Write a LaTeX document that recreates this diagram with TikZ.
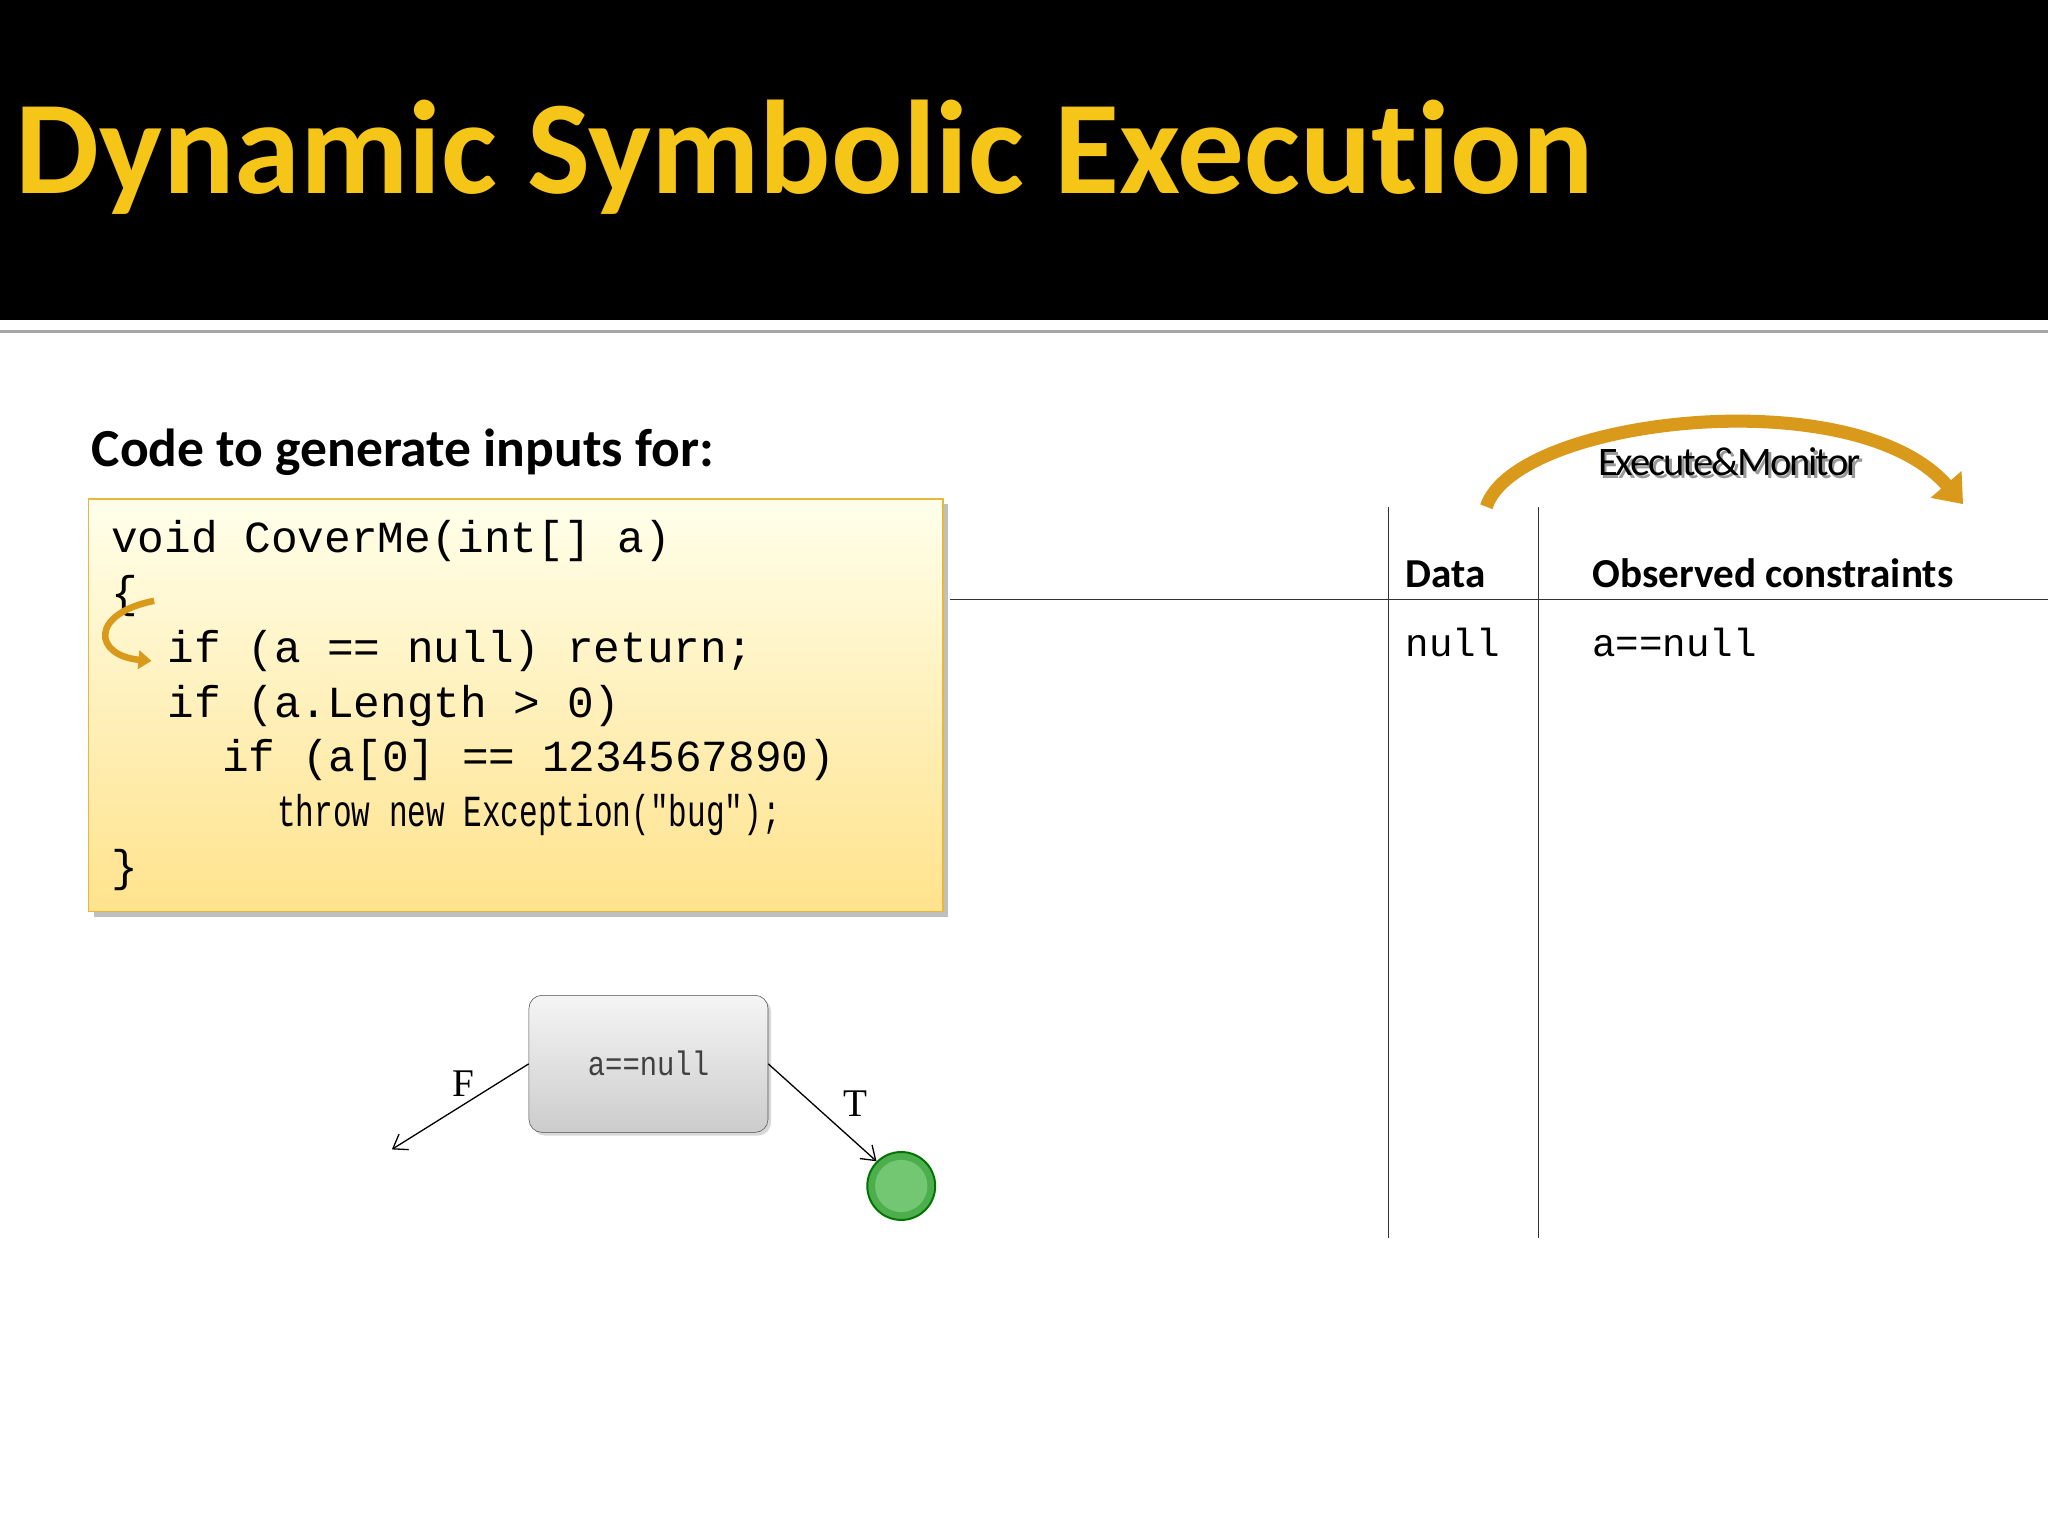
\documentclass[tikz,border=0pt]{standalone}
\usepackage{fontspec}
\setmainfont{Carlito}
\newfontfamily\codefont{Liberation Mono}
\newfontfamily\serifl{Liberation Serif}
\usepackage{graphicx}
\usetikzlibrary{shadows,arrows.meta}
\definecolor{titley}{HTML}{F5C518}
\definecolor{boxborder}{HTML}{E8B83A}
\definecolor{arcor}{HTML}{D99A1C}
\begin{document}
\begin{tikzpicture}[x=1pt,y=-1pt,
  code/.style={anchor=base west,inner sep=0pt,font=\codefont\fontsize{34}{34}\selectfont},
  hdr/.style={anchor=base west,inner sep=0pt,font=\bfseries\fontsize{31.5}{31.5}\selectfont},
  cell/.style={anchor=base west,inner sep=0pt,font=\codefont\fontsize{30}{30}\selectfont},
  lbl/.style={inner sep=0pt,font=\fontsize{30}{30}\selectfont\serifl},
  tline/.style={line width=1pt,black!80}]
\useasboundingbox (0,0) rectangle (1568,1176);
\fill[white] (0,0) rectangle (1568,1176);
\fill[black] (0,0) rectangle (1568,245);
\draw[gray!70,line width=2pt] (0,254) -- (1568,254);
\node[anchor=base west,inner sep=0pt,text=titley,font=\bfseries\fontsize{102}{102}\selectfont\addfontfeature{Ligatures=NoCommon}] (title) at (12,148) {Dynamic Symbolic Execution};
\node[anchor=base west,inner sep=0pt,font=\bfseries\fontsize{41}{41}\selectfont] (sub) at (70,357) {Code to generate inputs for:};
% code box
\fill[black!25] (72,386) rectangle (726,702);
\shade[top color=yellow!8,bottom color=yellow!50!orange!45,draw=boxborder,line width=1pt] (68,382) rectangle (722,698);
\node[code] (l1) at (85,423) {void CoverMe(int[] a)};
\node[code] (l2) at (85,465) {\{};
\node[code] (l3) at (128,507) {if (a == null) return;};
\node[code] (l4) at (128,549) {if (a.Length > 0)};
\node[code] (l5) at (170,591) {if (a[0] == 1234567890)};
\node[code] (l6) at (212,633) {\scalebox{0.7}[1]{throw new Exception("bug");}};
\node[code] (l7) at (85,675) {\}};
\coordinate (ca) at (118,460);
\coordinate (cb) at (116,506);
\draw[arcor,line width=5pt,-{Triangle[length=10pt,width=14pt]}] (ca) .. controls (68,470) and (72,502) .. (cb);
% decision node
\node[draw=black!70,rounded corners=10pt,minimum width=183pt,minimum height=105pt,top color=gray!8,bottom color=gray!40,drop shadow={opacity=0.3},font=\codefont\fontsize{26}{26}\selectfont,text=black!75] (dec) at (496.5,814.5) {\scalebox{0.85}[1]{a==null}};
\coordinate (fend) at (300,880);
\node[circle,draw=green!45!black,line width=1.5pt,fill=green!55!black!70,minimum size=52pt,inner sep=0pt] (done) at (690,908) {};
\node[circle,fill=green!60!black!55,minimum size=40pt,inner sep=0pt] at (690,908) {};
\draw[-{Straight Barb[length=10pt,width=14pt]},line width=1pt] (dec.west) -- (fend);
\draw[-{Straight Barb[length=10pt,width=14pt]},line width=1pt] (dec.east) -- (done.north west);
\node[lbl] (F) at (355,830) {F};
\node[lbl] (T) at (655,845) {T};
% table
\draw[tline] (727,459) -- (1568,459);
\draw[tline] (1063,388) -- (1063,948);
\draw[tline] (1178,388) -- (1178,948);
\node[hdr] (hdata) at (1076,450) {Data};
\node[hdr] (hobs) at (1219,450) {Observed constraints};
\node[cell] (d1) at (1076,503) {null};
\node[cell] (o1) at (1219,503) {a==null};
% execute & monitor arc
\coordinate (as) at (1138,388);
\coordinate (ae) at (1503,386);
\draw[arcor,line width=10pt,-{Triangle[length=20pt,width=30pt]}] (as) .. controls (1160,320) and (1420,290) .. (ae);
\node[anchor=base,inner sep=0pt,text=black!40,font=\fontsize{31}{31}\selectfont\addfontfeature{LetterSpace=-5}] at (1326,366) {Execute\&Monitor};
\node[anchor=base,inner sep=0pt,font=\fontsize{31}{31}\selectfont\addfontfeature{LetterSpace=-5}] (em) at (1324,364) {Execute\&Monitor};
\end{tikzpicture}
\end{document}
